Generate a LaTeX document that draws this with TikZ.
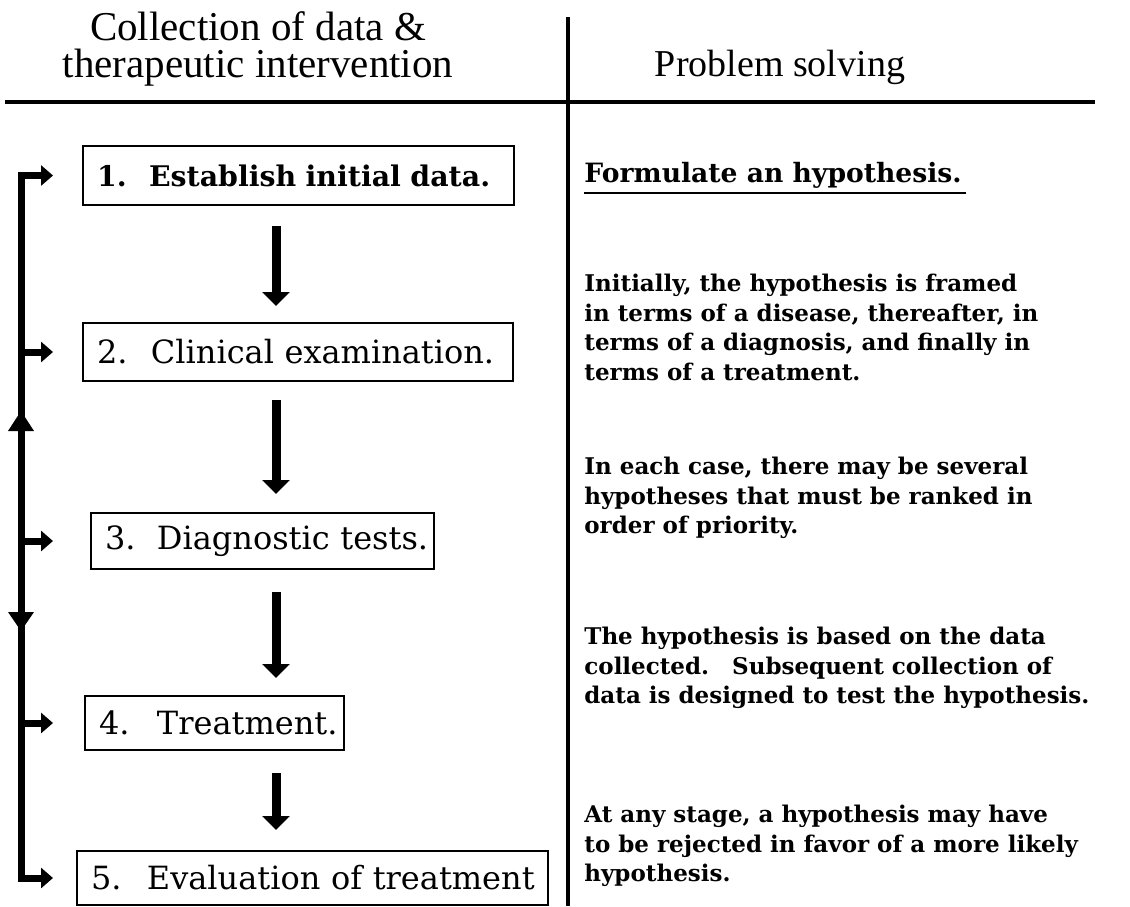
\documentclass[tikz,border=0pt]{standalone}
\usepackage{fontspec}
\setmainfont{Liberation Serif}
\newfontfamily\slab{DejaVu Serif}
\usetikzlibrary{arrows.meta}
\begin{document}
\begin{tikzpicture}[x=0.5pt,y=-0.5pt,
  hdr/.style={inner sep=0pt, align=center},
  boxA/.style={draw, line width=1pt, inner xsep=7pt, inner ysep=0pt, align=left, anchor=north west,
     font=\slab\bfseries\fontsize{14.2pt}{16pt}\selectfont},
  boxB/.style={draw, line width=1pt, inner xsep=7pt, inner ysep=0pt, align=left, anchor=north west,
     font=\slab\fontsize{16pt}{18pt}\selectfont},
  para/.style={inner sep=0pt, align=left, anchor=north west,
     font=\slab\bfseries\fontsize{11.5pt}{14.75pt}\selectfont},
  flow/.style={line width=4.5pt, -{Triangle[width=13.5pt,length=7pt]}},
  arm/.style={line width=3.5pt, -{Triangle[width=10pt,length=6pt]}},
  rule/.style={line width=2pt}
]
\useasboundingbox (0,0) rectangle (1130,906);

% header
\node[hdr, font=\fontsize{20.5pt}{18.5pt}\selectfont] (h1) at (258,49) {Collection of data \&\\therapeutic intervention};
\node[hdr, anchor=base, font=\fontsize{19pt}{18.5pt}\selectfont] (h2) at (780,76) {Problem solving};
\coordinate (vt) at (568,17);
\coordinate (vb) at (568,906);
\coordinate (hl) at (5,102);
\coordinate (hr) at (1095,102);
\draw[rule] (vt) -- (vb);
\draw[rule] (hl) -- (hr);

% boxes
\node[boxA, text width=201.5pt, minimum height=29.5pt] (b1) at (82,145)
  {\makebox[26pt][l]{1.}\mbox{Establish initial data.}};
\node[boxB, text width=201pt, minimum height=29pt] (b2) at (82,322)
  {\makebox[27pt][l]{2.}\mbox{Clinical examination.}};
\node[boxB, text width=157.5pt, minimum height=28pt] (b3) at (90,512)
  {\makebox[26pt][l]{3.}\mbox{Diagnostic tests.}};
\node[boxB, text width=115.5pt, minimum height=27pt] (b4) at (84,695)
  {\makebox[29pt][l]{4.}\mbox{Treatment.}};
\node[boxB, text width=221.5pt, minimum height=27pt] (b5) at (76,850)
  {\makebox[28pt][l]{5.}\mbox{Evaluation of treatment}};

% vertical flow arrows
\coordinate (ax) at (276,0);
\draw[flow] ([yshift=-10pt]b1.south -| ax) -- ([yshift=8pt]b2.north -| ax);
\draw[flow] ([yshift=-9pt]b2.south -| ax) -- ([yshift=9pt]b3.north -| ax);
\draw[flow] ([yshift=-11pt]b3.south -| ax) -- ([yshift=8.5pt]b4.north -| ax);
\draw[flow] ([yshift=-11pt]b4.south -| ax) -- ([yshift=10pt]b5.north -| ax);

% left feedback bracket
\coordinate (L) at (21,0);
\coordinate (T) at (53,0);
\draw[line width=3.5pt, line join=miter, {Triangle[width=10pt,length=6pt]}-{Triangle[width=10pt,length=6pt]}]
  (b1.west -| T) -- (b1.west -| L) -- (b5.west -| L) -- (b5.west -| T);
\draw[arm] (b2.west -| L) -- (b2.west -| T);
\draw[arm] (b3.west -| L) -- (b3.west -| T);
\draw[arm] (b4.west -| L) -- (b4.west -| T);
\fill (21,411) -- (34,431) -- (8,431) -- cycle;
\fill (8,612) -- (34,612) -- (21,631) -- cycle;

% right column
\node[inner sep=0pt, anchor=base west, font=\slab\bfseries\fontsize{13.3pt}{15pt}\selectfont] (p0) at (584,182)
  {Formulate an hypothesis.};
\draw[line width=1pt] ([yshift=-5.5pt]p0.base west) -- ([yshift=-5.5pt,xshift=2pt]p0.base east);
\node[para] (p1) at (584,274)
  {Initially, the hypothesis is framed\\in terms of a disease, thereafter, in\\terms of a diagnosis, and finally in\\terms of a treatment.};
\node[para] (p2) at (584,457)
  {In each case, there may be several\\hypotheses that must be ranked in\\order of priority.};
\node[para] (p3) at (584,627)
  {The hypothesis is based on the data\\collected.\quad Subsequent collection of\\data is designed to test the hypothesis.};
\node[para] (p4) at (584,805)
  {At any stage, a hypothesis may have\\to be rejected in favor of a more likely\\hypothesis.};
\end{tikzpicture}
\end{document}
